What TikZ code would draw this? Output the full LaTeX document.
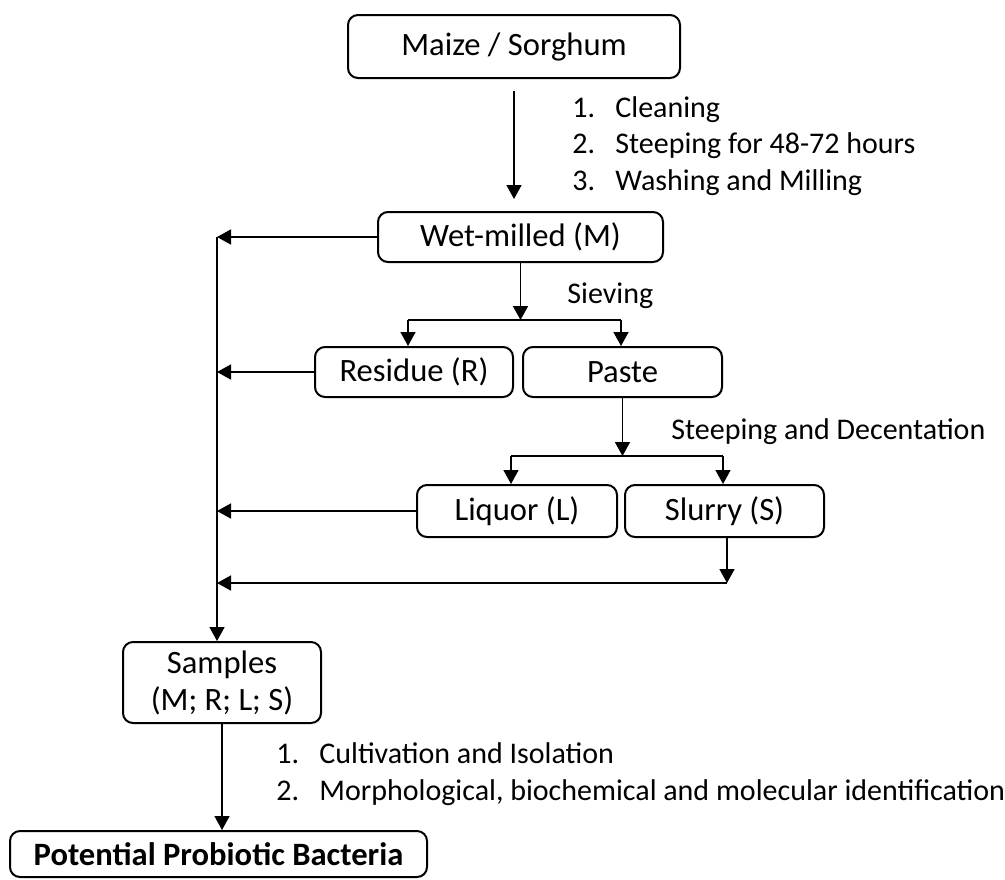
\documentclass[tikz,border=0pt]{standalone}
\usepackage{fontspec}
\setmainfont{Carlito}
\usetikzlibrary{arrows.meta,positioning}
\tikzset{block/.style={draw, rounded corners=5pt, line width=1pt, inner sep=0pt,
		align=center, font=\fontsize{16.3}{18.5}\selectfont},
	note/.style={anchor=base west, inner sep=0pt, font=\fontsize{15}{18}\selectfont},
	arrow/.style={draw,line width=0.8pt,-{Triangle[length=7pt,width=7.5pt]}},
	line/.style={draw,line width=1pt,-}}

\begin{document}
\begin{tikzpicture}[x=0.5pt,y=-0.5pt]
	\useasboundingbox (0,0) rectangle (1005,879);
	% boxes
	\node[block,minimum width=166pt,minimum height=31.5pt](maize)at(514,46.5){Maize / Sorghum};
	\node[block,minimum width=142.5pt,minimum height=25pt](wet)at(520.5,237){Wet-milled (M)};
	\node[block,minimum width=99pt,minimum height=25pt](residue)at(414,372){Residue (R)};
	\node[block,minimum width=99.5pt,minimum height=25pt](paste)at(622.5,372){Paste};
	\node[block,minimum width=100pt,minimum height=26pt](liquor)at(517,511){Liquor (L)};
	\node[block,minimum width=99.5pt,minimum height=26pt](slurry)at(724.5,511){Slurry (S)};
	\node[block,minimum width=99pt,minimum height=40.5pt](samples)at(222,682.5){Samples\\(M; R; L; S)};
	\node[block,minimum width=208.5pt,minimum height=23pt,font=\fontsize{16.3}{18.5}\selectfont\bfseries](probiotic)at(218.5,854){Potential Probiotic Bacteria};
	
	% texts
	\foreach \i/\t in {1/Cleaning,2/Steeping for 48-72 hours,3/Washing and Milling}
	\node[note](prep\i)at(572,{117+(\i-1)*36.5}){\makebox[21.5pt][l]{\i.}\t};
	\node[note](sieve)at(567,303){Sieving};
	\node[note](decant)at(671,439){Steeping and Decentation};
	\foreach \i/\t in {1/Cultivation and Isolation,2/{Morphological, biochemical and molecular identification}}
	\node[note](ident\i)at(276,{763+(\i-1)*37}){\makebox[21.5pt][l]{\i.}\t};
	
	% joints
	\coordinate(bus)at(217,0);
	\coordinate(sieveL)at(408,320);
	\coordinate(sieveR)at(621,320);
	\coordinate(decL)at(511,456);
	\coordinate(decR)at(723,456);
	\coordinate(back)at(727,583);
	
	\draw[arrow,shorten <=6pt,shorten >=6pt](maize.south)--(maize.south|-wet.north);
	\draw[arrow](wet.south)--(wet.south|-sieveL);
	\draw[line](sieveL)--(sieveR);
	\foreach \s/\b in {sieveL/residue,sieveR/paste,decL/liquor,decR/slurry}
	\draw[arrow](\s)--(\s|-\b.north);
	\draw[arrow](paste.south)--(paste.south|-decL);
	\draw[line](decL)--(decR);
	\draw[arrow](back|-slurry.south)--(back);
	\draw[arrow](back)--(back-|bus);
	\foreach \b in {wet,residue,liquor}
	\draw[arrow](\b.west)--(\b.west-|bus);
	\draw[arrow](wet.west-|bus)--(bus|-samples.north);
	\draw[arrow](samples.south)--(samples.south|-probiotic.north);
\end{tikzpicture}
\end{document}
